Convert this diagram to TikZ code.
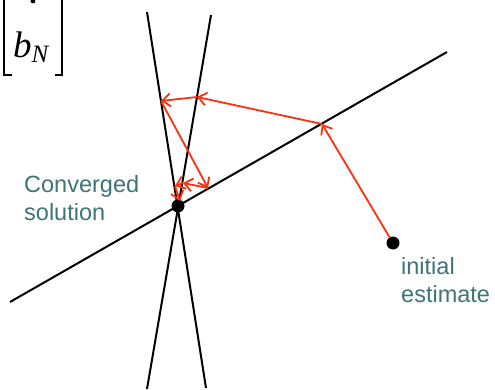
\documentclass[tikz,border=0pt]{standalone}
\usepackage{fontspec}
\setmainfont{Liberation Sans}
\newfontfamily\serifit{Liberation Serif}
\usetikzlibrary{arrows.meta}
\definecolor{lbl}{HTML}{3F7474}
\definecolor{itr}{HTML}{FF3010}
\begin{document}
\begin{tikzpicture}[x=1pt,y=-1pt,
  lineblk/.style={line width=2pt,black},
  iter/.style={itr,line width=1.8pt,-{Straight Barb[length=8pt,width=13pt,line width=1.8pt]}},
  lab/.style={lbl,anchor=base west,inner sep=0pt,font=\fontsize{23.5}{27}\selectfont},
  dotpt/.style={circle,fill=black,inner sep=0pt,minimum size=13pt}]
\useasboundingbox (0,0) rectangle (495,390);
% bracket with b_N
\draw[line width=1.5pt] (12,-2) -- (4,-2) -- (4,75) -- (12,75);
\draw[line width=1.5pt] (55,-2) -- (62,-2) -- (62,75) -- (55,75);
\fill (33,1) circle (2.4pt);
\node[anchor=base west,inner sep=0pt] (bN) at (13,58)
  {\serifit\itshape\fontsize{37}{37}\selectfont b\raisebox{-5pt}{\fontsize{25}{25}\selectfont N}};
% lines
\coordinate (A1) at (147,12);  \coordinate (A2) at (206,388);
\coordinate (B1) at (211,15);  \coordinate (B2) at (147,389);
\coordinate (L1) at (10,302);  \coordinate (L2) at (447,52);
\draw[lineblk] (A1) -- (A2);
\draw[lineblk] (B1) -- (B2);
\draw[lineblk] (L1) -- (L2);
% iteration points
\coordinate (P1) at (322,124);
\coordinate (P2) at (197,97);
\coordinate (P3) at (161,101);
\coordinate (P4) at (208,188);
\coordinate (P5) at (183,183);
\coordinate (P6) at (175,186);
\coordinate (P7) at (180,201);
\node[dotpt] (init) at (393,243) {};
\node[dotpt] (conv) at (178,206) {};
\draw[iter] (init) -- (P1);
\draw[iter] (P1) -- (P2);
\draw[iter] (P2) -- (P3);
\draw[iter] (P3) -- (P4);
\draw[iter] (P4) -- (P5);
\draw[iter] (P5) -- (P6);
\draw[iter] (P6) -- (P7);
% labels
\node[lab] (t1) at (24,193) {Converged};
\node[lab] (t2) at (24,220) {solution};
\node[lab] (t3) at (401,274) {initial};
\node[lab] (t4) at (401,302) {estimate};
\end{tikzpicture}
\end{document}
